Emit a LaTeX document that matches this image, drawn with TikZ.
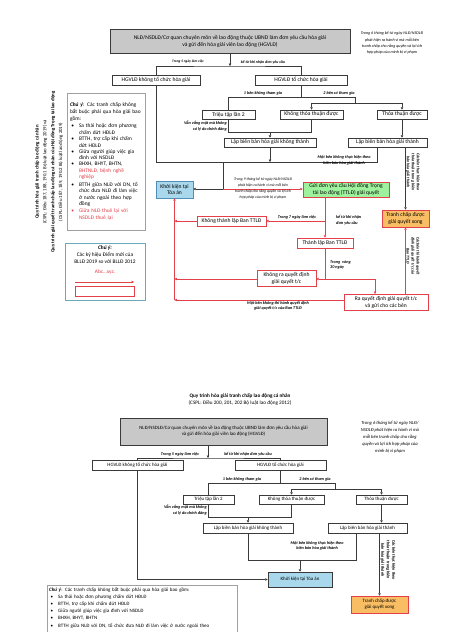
\documentclass[tikz,border=0pt]{standalone}
\usepackage{fontspec}
\setmainfont{Carlito}
\usetikzlibrary{arrows.meta}
\definecolor{dk}{HTML}{3A3A3A}
\definecolor{gy}{HTML}{C8C8C8}
\definecolor{rd}{HTML}{E3404A}
\definecolor{bl}{HTML}{A9D8EC}
\definecolor{blb}{HTML}{4F8FB8}
\definecolor{gn}{HTML}{9EF29E}
\definecolor{og}{HTML}{F9BE63}
\definecolor{tq}{HTML}{6AAAB8}
\definecolor{nb}{HTML}{A0A0A0}
\newcommand\fsz[2]{\fontsize{#1}{#2}\selectfont}
\newcommand\itm[3][black]{\par\vspace{1.2pt}\noindent\makebox[9pt][l]{\hspace{1.5pt}\textcolor{#1}{\textbullet}}\parbox[t]{#2}{\raggedright #3}}
\newcommand\itmb[1]{\par\noindent\makebox[9pt][l]{\hspace{1.5pt}\textbullet}#1}
\tikzset{
  bx/.style={draw=dk, line width=0.6pt, fill=white, inner sep=0pt, align=center, font=\fsz{5.6}{6.8}},
  bxs/.style={bx, font=\fsz{4.9}{6}},
  rbx/.style={bx, draw=rd},
  ln/.style={draw=dk, line width=0.6pt},
  rln/.style={draw=rd, line width=0.6pt},
  arr/.style={-{Triangle[length=2.4pt,width=2.4pt]}},
  lab/.style={font=\fsz{4.2}{5.4}\bfseries\itshape, inner sep=0pt, align=center},
  labs/.style={font=\fsz{3.5}{4.5}\bfseries\itshape, inner sep=0pt, align=center},
  inote/.style={font=\fsz{4.4}{6.2}\itshape, inner sep=0pt, align=center},
}
\begin{document}
\begin{tikzpicture}[x=1pt,y=-1pt]
\useasboundingbox (0,0) rectangle (474,632);
\fill[white] (0,0) rectangle (474,632);

% ===== left rotated title =====
\node[rotate=90, align=center, inner sep=0pt, font=\fsz{4.8}{7.8}] (tit) at (49,172)
 {\textbf{Quy trình hòa giải tranh chấp lao động cá nhân}\\
  (CSPL: Điều 187, 188, 190.1 Bộ luật lao động 2019) và\\
  \textbf{Quy trình giải quyết tranh chấp lao động cá nhân của Hội đồng Trọng tài lao động}\\
  (CSPL: Điều 187, 189, 190.2 Bộ luật lao động 2019)};

% ===== note 1 =====
\node[draw=nb, line width=0.5pt, minimum width=78pt, minimum height=137pt, text width=72pt, align=left, inner sep=3pt, font=\fsz{5.4}{6.6}] (nt1) at (106,161.5)
 {\textbf{\textit{Chú ý}}: Các tranh chấp không\\ bắt buộc phải qua hòa giải bao\\ gồm:
  \itm{62pt}{Sa thải hoặc đơn phương\\ chấm dứt HĐLĐ}
  \itm{62pt}{BTTH, trợ cấp khi chấm\\ dứt HĐLĐ}
  \itm{62pt}{Giữa người giúp việc gia\\ đình với NSDLĐ}
  \itm{62pt}{BHXH, BHYT, BHTN,\\ \textcolor{rd}{BHTNLĐ, bệnh nghề\\ nghiệp}}
  \itm{62pt}{BTTH giữa NLĐ với DN, tổ\\ chức đưa NLĐ đi làm việc\\ ở nước ngoài theo hợp\\ đồng}
  \itm[rd]{62pt}{\textcolor{rd}{Giữa NLĐ thuê lại với\\ NSDLĐ thuê lại}}};

% ===== note 2 =====
\node[draw=tq, line width=0.6pt, minimum width=80pt, minimum height=57pt] (nt2) at (105,271.5) {};
\node[align=center, inner sep=0pt, font=\fsz{5.4}{7}] (nt2t) at (105,255)
 {\textbf{\textit{Chú ý:}}\\ Các ký hiệu Điểm mới của\\ BLLĐ 2019 so với BLLĐ 2012};
\node[inner sep=0pt, font=\fsz{5.4}{7}, text=rd] (abc) at (105,272) {Abc…xyz.};
\coordinate (ka) at (75,282);
\coordinate (kb) at (134,282);
\draw[rln, arr] (ka) -- (kb);
\node[draw=rd, line width=0.6pt, minimum width=59pt, minimum height=10pt] (krect) at (104.5,291) {};

% ===== top diagram =====
\node[bx, fill=gy, minimum width=240pt, minimum height=24pt] (top) at (230,41)
 {NLĐ/NSDLĐ/Cơ quan chuyên môn về lao động thuộc UBND làm đơn yêu cầu hòa giải\\ và gửi đến hòa giải viên lao động (HGVLĐ)};
\node[inote, font=\fsz{4.1}{6.2}\itshape] (n1) at (392,43)
 {Trong 6 tháng kể từ ngày NLĐ/NSDLĐ\\ phát hiện ra hành vi mà mỗi bên\\ tranh chấp cho rằng quyền và lợi ích\\ hợp pháp của mình bị vi phạm};

\node[bx, minimum width=88pt, minimum height=10pt] (hgK) at (156,80) {HGVLĐ không tổ chức hòa giải};
\node[bx, minimum width=92pt, minimum height=10pt] (hgT) at (301,80) {HGVLĐ tổ chức hòa giải};
\coordinate (j1) at (230,66);
\draw[ln, arr] (top.south) -- (j1);
\draw[ln] (hgK.north) |- (j1) -| (hgT.north);
\node[labs] (l1) at (188,62) {Trong 5 ngày làm việc};
\node[lab, font=\fsz{3.9}{5}\bfseries\itshape] (l2) at (263,62.5) {kể từ khi nhận đơn yêu cầu};

\node[bx, minimum width=53pt, minimum height=9pt] (tt2) at (228.5,114.5) {Triệu tập lần 2};
\node[bx, minimum width=63pt, minimum height=9pt] (ktt) at (311.5,114.5) {Không thỏa thuận được};
\node[bx, minimum width=50pt, minimum height=9pt] (tt) at (402,114.5) {Thỏa thuận được};
\coordinate (j2) at (301,97);
\coordinate (j3) at (355,97);
\coordinate (j4) at (355,103);
\draw[ln] (hgT.south) -- (j2);
\draw[ln] (j2) -| (tt2.north);
\draw[ln] (j2) -- (j3) -- (j4);
\draw[ln, arr] (j4) -| (ktt.north);
\draw[ln, arr] (j4) -| (tt.north);
\node[lab] (l3) at (263,93.5) {1 bên không tham gia};
\node[lab] (l4) at (339,93.5) {2 bên có tham gia};

\node[bx, minimum width=92pt, minimum height=9pt] (lbk) at (270,142.5) {Lập biên bản hòa giải không thành};
\node[bx, minimum width=79pt, minimum height=9pt] (lbt) at (387.5,142.5) {Lập biên bản hòa giải thành};
\coordinate (j5) at (228.5,132);
\draw[ln] (tt2.south) -- (j5) -| (ktt.south);
\draw[ln, arr] (lbk.north |- j5) -- (lbk.north);
\draw[ln, arr] (tt.south) -- (tt.south |- lbt.north);
\node[lab, anchor=east, align=right] (l5) at (227,126) {Vẫn vắng mặt mà không\\ có lý do chính đáng};

\coordinate (j7) at (223,162);
\coordinate (lbtL) at (377,147);
\draw[ln] (hgK.south) |- (j7);
\draw[ln, arr] (lbk.south) -- (lbk.south |- j7);
\draw[ln] (lbtL) |- (j7);
\node[lab] (l6) at (344,160.5) {Một bên không thực hiện theo\\ biên bản hòa giải thành};

\node[bx, fill=bl, draw=blb, minimum width=37pt, minimum height=17pt] (kk) at (174.5,189.5) {Khởi kiện tại\\ Tòa án};
\node[rbx, fill=gn, minimum width=86pt, minimum height=15pt] (gd) at (346,189.5) {Gửi đơn yêu cầu Hội đồng Trọng\\ tài lao động (TTLĐ) giải quyết};
\coordinate (j9) at (223,189);
\draw[ln] (j7) -- (j9);
\draw[ln, arr] (j9) -- (kk.east |- j9);
\draw[rln, arr] (j9) -- (gd.west |- j9);
\node[inote, font=\fsz{3.8}{5.9}\itshape] (l7) at (263,188)
 {Trong 9 tháng kể từ ngày NLĐ/NSDLĐ\\ phát hiện ra hành vi mà mỗi bên\\ tranh chấp cho rằng quyền và lợi ích\\ hợp pháp của mình bị vi phạm};

\node[rbx, fill=og, minimum width=47pt, minimum height=17pt] (done) at (405.5,218.5) {Tranh chấp được\\ giải quyết xong};
\draw[ln, arr] (done.north |- lbt.south) -- (done.north);
\node[lab, rotate=-90, font=\fsz{4}{5}\bfseries\itshape] (l8) at (413,172) {Các bên thực hiện theo\\ thỏa thuận trong biên\\ bản hòa giải thành};

% red part
\node[rbx, minimum width=69pt, minimum height=10pt] (ktl) at (231.5,221) {Không thành lập Ban TTLĐ};
\node[rbx, minimum width=56pt, minimum height=10pt] (tl) at (325,243) {Thành lập Ban TTLĐ};
\node[rbx, minimum width=59pt, minimum height=16pt] (kra) at (286.5,278) {Không ra quyết định\\ giải quyết t/c};
\node[rbx, minimum width=84pt, minimum height=16pt] (ra) at (386,302) {Ra quyết định giải quyết t/c\\ và gửi cho các bên};
\coordinate (r1) at (325,221);
\coordinate (rv) at (174.5,300);
\coordinate (r3) at (325,279);
\coordinate (raN) at (375,294);
\draw[rln] (tl.north |- gd.south) -- (r1);
\draw[rln, arr] (r1) -- (tl.north);
\draw[rln, arr] (r1) -- (ktl.east);
\draw[rln, arr] (ktl.west) -- (ktl.west -| rv);
\draw[rln, arr] (rv) -- (kk.south);
\draw[rln] (tl.south) -- (r3);
\draw[rln, arr] (r3) -- (kra.east |- r3);
\draw[rln, arr] (r3) -| (raN);
\draw[rln, arr] (kra.west |- r3) -- (rv |- r3);
\draw[rln, arr] (ra.west |- rv) -- (rv);
\draw[rln, arr] (ra.north -| done.south) -- (done.south);
\node[lab] (l9) at (297,217.5) {Trong 7 ngày làm việc};
\node[lab, anchor=west, align=left] (l10) at (336,220) {kể từ khi nhận\\ đơn yêu cầu};
\node[lab, anchor=west, align=left] (l11) at (330,265) {Trong \ vòng\\ 30 ngày};
\node[lab] (l12) at (278,305.5) {Một bên không thi hành quyết định\\ giải quyết t/c của Ban TTLĐ};
\node[lab, rotate=-90, font=\fsz{4}{5}\bfseries\itshape] (l13) at (413,256) {Các bên thi hành quyết\\ định giải quyết t/c của\\ Ban TTLĐ};

% ===== bottom diagram =====
\node[align=center, inner sep=0pt, font=\fsz{5.2}{7}] (tit2) at (240,399)
 {\textbf{Quy trình hòa giải tranh chấp lao động cá nhân}\\ (CSPL: Điều 200, 201, 202 Bộ luật lao động 2012)};
\node[bxs, fill=gy, minimum width=207pt, minimum height=27pt] (top2) at (223.5,431.5)
 {NLĐ/NSDLĐ/Cơ quan chuyên môn về lao động thuộc UBND làm đơn yêu cầu hòa giải\\ và gửi đến hòa giải viên lao động (HGVLĐ)};
\node[inote, font=\fsz{4.6}{7}\itshape] (n2) at (390,437)
 {Trong 6 tháng kể từ ngày NLĐ/\\ NSDLĐ phát hiện ra hành vi mà\\ mỗi bên tranh chấp cho rằng\\ quyền và lợi ích hợp pháp của\\ mình bị vi phạm};

\node[bxs, minimum width=91pt, minimum height=10pt] (hgK2) at (137.5,465) {HGVLĐ không tổ chức hòa giải};
\node[bxs, minimum width=91pt, minimum height=10pt] (hgT2) at (280.5,465) {HGVLĐ tổ chức hòa giải};
\coordinate (b1) at (208,458);
\draw[ln, arr] (top2.south -| b1) -- (b1);
\draw[ln] (hgK2.north) |- (b1) -| (hgT2.north);
\node[lab] (bl1) at (180,454.5) {Trong 5 ngày làm việc};
\node[lab] (bl2) at (248,454.5) {kể từ khi nhận đơn yêu cầu};

\node[bxs, minimum width=51pt, minimum height=9pt] (tt2b) at (208.5,499.5) {Triệu tập lần 2};
\node[bxs, minimum width=65pt, minimum height=9pt] (ktt2) at (291.5,499.5) {Không thỏa thuận được};
\node[bxs, minimum width=51pt, minimum height=9pt] (tt2c) at (381.5,499.5) {Thỏa thuận được};
\coordinate (b2) at (280.5,483);
\coordinate (b3) at (335,483);
\coordinate (b4) at (335,489);
\draw[ln] (hgT2.south) -- (b2);
\draw[ln] (b2) -| (tt2b.north);
\draw[ln] (b2) -- (b3) -- (b4);
\draw[ln, arr] (b4) -| (ktt2.north);
\draw[ln, arr] (b4) -| (tt2c.north);
\node[lab] (bl3) at (242,479) {1 bên không tham gia};
\node[lab] (bl4) at (315,479) {2 bên có tham gia};

\node[bxs, minimum width=90pt, minimum height=10pt] (lbk2) at (248,528) {Lập biên bản hòa giải không thành};
\node[bxs, minimum width=79pt, minimum height=10pt] (lbt2) at (367.5,528) {Lập biên bản hòa giải thành};
\coordinate (b5) at (208.5,517);
\draw[ln] (tt2b.south) -- (b5) -| (ktt2.south);
\draw[ln, arr] (lbk2.north |- b5) -- (lbk2.north);
\draw[ln, arr] (tt2c.south) -- (tt2c.south |- lbt2.north);
\node[lab, anchor=east, align=right] (bl5) at (207,510) {Vẫn vắng mặt mà không\\ có lý do chính đáng};

\node[bxs, fill=bl, draw=dk, minimum width=64pt, minimum height=15pt] (kk2) at (300,579.5) {Khởi kiện tại Tòa án};
\coordinate (b6) at (300,560);
\coordinate (lbt2L) at (356,533);
\draw[ln] (lbk2.south) |- (b6);
\draw[ln] (lbt2L) |- (b6);
\draw[ln, arr] (b6) -- (kk2.north);
\draw[ln, arr] (hgK2.south) |- (kk2.west);
\node[lab] (bl6) at (317,546) {Một bên không thực hiện theo\\ biên bản hòa giải thành};

\node[rbx, fill=og, font=\fsz{4.9}{6}, minimum width=57pt, minimum height=17pt] (done2) at (379.5,604.5) {Tranh chấp được\\ giải quyết xong};
\draw[ln, arr] (done2.north |- lbt2.south) -- (done2.north);
\node[lab, rotate=-90] (bl7) at (388,560) {Các bên thực hiện theo\\ thỏa thuận trong biên\\ bản hòa giải thành};

% bottom note
\node[draw=nb, line width=0.5pt, minimum width=190pt, minimum height=60pt, anchor=north west] (nt3) at (47,585) {};
\node[anchor=north west, text width=186pt, align=left, inner sep=0pt, font=\fsz{5}{7.2}] (nt3t) at (49,587)
 {\textbf{\textit{Chú ý}}: Các tranh chấp không bắt buộc phải qua hòa giải bao gồm:
  \itmb{Sa thải hoặc đơn phương chấm dứt HĐLĐ}
  \itmb{BTTH, trợ cấp khi chấm dứt HĐLĐ}
  \itmb{Giữa người giúp việc gia đình với NSDLĐ}
  \itmb{BHXH, BHYT, BHTN}
  \itmb{BTTH giữa NLĐ với DN, tổ chức đưa NLĐ đi làm việc ở nước ngoài theo}};
\end{tikzpicture}
\end{document}
